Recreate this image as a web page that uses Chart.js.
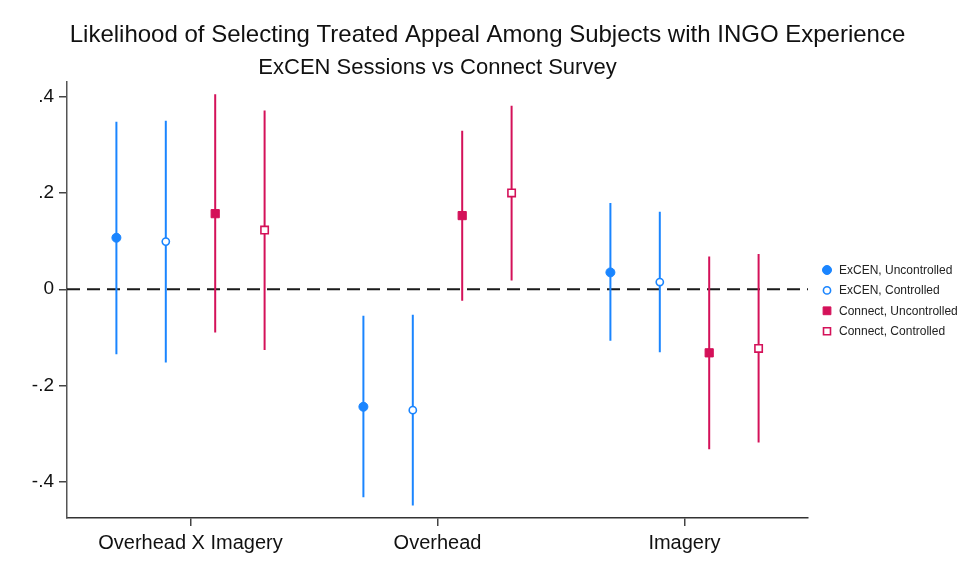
<!DOCTYPE html>
<html>
<head>
<meta charset="utf-8">
<script src="https://cdn.jsdelivr.net/npm/chart.js@4.4.1/dist/chart.umd.min.js"></script>
<style>
  html, body { margin: 0; padding: 0; background: #fff; }
</style>
</head>
<body>
<canvas id="chart" width="975" height="584"></canvas>
<script>
/* =========================
   DATA
========================= */
const categories = ["Overhead X Imagery", "Overhead", "Imagery"];
const yTicks = [-0.4, -0.2, 0, 0.2, 0.4];

const excenUnc   = [0.107, -0.244, 0.035];
const excenUncLo = [-0.135, -0.432, -0.107];
const excenUncHi = [0.348, -0.055, 0.179];

const excenCon   = [0.099, -0.251, 0.015];
const excenConLo = [-0.152, -0.449, -0.131];
const excenConHi = [0.350, -0.053, 0.161];

const connUnc   = [0.157, 0.153, -0.132];
const connUncLo = [-0.090, -0.024, -0.332];
const connUncHi = [0.405, 0.329, 0.068];

const connCon   = [0.123, 0.200, -0.123];
const connConLo = [-0.126, 0.018, -0.318];
const connConHi = [0.371, 0.381, 0.073];

const seriesNames = [
  "ExCEN, Uncontrolled",
  "ExCEN, Controlled",
  "Connect, Uncontrolled",
  "Connect, Controlled"
];

/* =========================
   STYLE
========================= */
const BLUE = "#1a85ff";
const PINK = "#d41159";
const FONT = "'Liberation Sans', Arial, sans-serif";

// horizontal shift of each series inside a category
const offsets = [-0.3, -0.1, 0.1, 0.3];

const markers = [
  { pointStyle: "circle", radius: 4.5, fill: BLUE, color: BLUE, borderWidth: 1 },
  { pointStyle: "circle", radius: 3.6, fill: "#fff", color: BLUE, borderWidth: 1.6 },
  { pointStyle: "rect", radius: 5.8, fill: PINK, color: PINK, borderWidth: 1 },
  { pointStyle: "rect", radius: 5.2, fill: "#fff", color: PINK, borderWidth: 1.6 }
];

const series = [
  [excenUnc, excenUncLo, excenUncHi],
  [excenCon, excenConLo, excenConHi],
  [connUnc, connUncLo, connUncHi],
  [connCon, connConLo, connConHi]
];

/* =========================
   DATASETS
========================= */
const datasets = [];

// zero reference line
datasets.push({
  type: "line",
  data: [{ x: -0.5, y: 0 }, { x: 2.5, y: 0 }],
  borderColor: "#1a1a1a",
  borderWidth: 2,
  borderDash: [13, 7],
  pointRadius: 0,
  order: 3
});

series.forEach((s, i) => {
  const [est, lo, hi] = s;
  const m = markers[i];

  // confidence intervals: pairs of points split by null gaps
  const ci = [];
  est.forEach((v, c) => {
    ci.push({ x: c + offsets[i], y: lo[c] });
    ci.push({ x: c + offsets[i], y: hi[c] });
    ci.push({ x: c + offsets[i], y: null });
  });
  datasets.push({
    type: "line",
    data: ci,
    borderColor: m.color,
    borderWidth: 2,
    pointRadius: 0,
    spanGaps: false,
    order: 2
  });

  // point estimates
  datasets.push({
    type: "scatter",
    data: est.map((v, c) => ({ x: c + offsets[i], y: v })),
    pointStyle: m.pointStyle,
    pointRadius: m.radius,
    pointBackgroundColor: m.fill,
    pointBorderColor: m.color,
    pointBorderWidth: m.borderWidth,
    order: 1
  });
});

/* =========================
   LEGEND (drawn at right)
========================= */
const sideLegend = {
  id: "sideLegend",
  afterDraw(chart) {
    const ctx = chart.ctx;
    const x0 = 827, y0 = 270, step = 20.4;
    ctx.save();
    ctx.font = "12px " + FONT;
    ctx.textBaseline = "middle";
    seriesNames.forEach((name, i) => {
      const m = markers[i];
      const y = y0 + i * step;
      ctx.fillStyle = m.fill;
      ctx.strokeStyle = m.color;
      ctx.lineWidth = m.borderWidth;
      Chart.helpers.drawPoint(ctx, {
        pointStyle: m.pointStyle,
        radius: m.pointStyle === "rect" ? m.radius * 0.95 : m.radius,
        rotation: 0,
        borderWidth: m.borderWidth
      }, x0, y);
      ctx.fillStyle = "#222";
      ctx.fillText(name, x0 + 12, y + 0.5);
    });
    ctx.restore();
  }
};

/* =========================
   CHART
========================= */
new Chart(document.getElementById("chart"), {
  data: { datasets },
  plugins: [sideLegend],
  options: {
    responsive: false,
    animation: false,
    layout: { padding: 0 },
    plugins: {
      legend: { display: false },
      tooltip: { enabled: false },
      title: {
        display: true,
        text: "Likelihood of Selecting Treated Appeal Among Subjects with INGO Experience",
        color: "#111",
        font: { family: FONT, size: 24, weight: "normal" },
        padding: { top: 21, bottom: 0 },
        fullSize: true
      },
      subtitle: {
        display: true,
        text: "ExCEN Sessions vs Connect Survey",
        color: "#111",
        font: { family: FONT, size: 22, weight: "normal" },
        padding: { top: 5, bottom: 1 },
        fullSize: false
      }
    },
    scales: {
      x: {
        type: "linear",
        min: -0.5,
        max: 2.5,
        afterBuildTicks: (scale) => {
          scale.ticks = categories.map((c, i) => ({ value: i }));
        },
        afterFit: (scale) => { scale.height = 66; },
        ticks: {
          callback: (v) => categories[v],
          color: "#111",
          font: { family: FONT, size: 20 },
          padding: 5,
          maxRotation: 0,
          autoSkip: false
        },
        grid: { drawOnChartArea: false, tickLength: 8, color: "#444", lineWidth: 1.5 },
        border: { color: "#333", width: 1.5 }
      },
      y: {
        type: "linear",
        min: -0.475,
        max: 0.43,
        afterBuildTicks: (scale) => {
          scale.ticks = yTicks.map(v => ({ value: v }));
        },
        afterFit: (scale) => { scale.width = 67; },
        ticks: {
          callback: (v) => {
            if (Math.abs(v) < 1e-9) return "0";
            return (v < 0 ? "-" : "") + Math.abs(v).toFixed(1).replace(/^0/, "");
          },
          color: "#111",
          font: { family: FONT, size: 19 },
          padding: 5
        },
        grid: { drawOnChartArea: false, tickLength: 8, color: "#444", lineWidth: 1.5 },
        border: { color: "#555", width: 1.5 }
      },
      // empty right-hand axis that reserves room for the legend
      yLegend: {
        type: "linear",
        position: "right",
        display: true,
        afterFit: (scale) => { scale.width = 167; },
        ticks: { display: false },
        grid: { display: false },
        border: { display: false }
      }
    }
  }
});
</script>
</body>
</html>
